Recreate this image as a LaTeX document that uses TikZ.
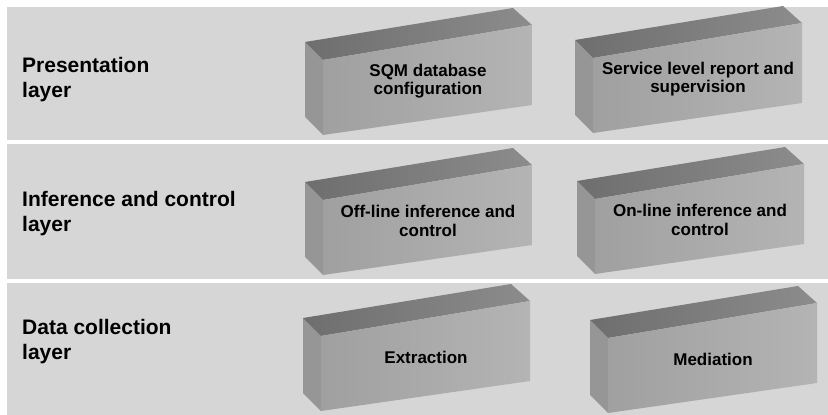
\documentclass[tikz,border=0pt]{standalone}
\usepackage{fontspec}
\setmainfont{Liberation Sans}
\definecolor{bandgray}{HTML}{D6D6D6}
\definecolor{frontL}{HTML}{A0A0A0}
\definecolor{frontR}{HTML}{B4B4B4}
\definecolor{topL}{HTML}{6E6E6E}
\definecolor{topR}{HTML}{8C8C8C}
\definecolor{sidegray}{HTML}{969696}
\tikzset{
  band/.style={fill=bandgray, draw=none},
  layerlabel/.style={anchor=north west, inner sep=0pt, align=left,
    font=\bfseries\fontsize{21}{25}\selectfont, text=black},
  boxtext/.style={inner sep=0pt, align=center,
    font=\bfseries\fontsize{17}{18.5}\selectfont, text=black},
}
\newcommand\layerbox[4]{%
  \coordinate (#1-blt) at (#2,#3);
  \coordinate (#1-flt) at (#2+18,#3+18);
  \coordinate (#1-frt) at (#2+227,#3-17);
  \coordinate (#1-brt) at (#2+208,#3-34);
  \coordinate (#1-frb) at (#2+227,#3+63);
  \coordinate (#1-flb) at (#2+18,#3+93);
  \coordinate (#1-blb) at (#2,#3+75);
  \fill[sidegray] (#1-blt) -- (#1-flt) -- (#1-flb) -- (#1-blb) -- cycle;
  \shade[left color=topL, right color=topR] (#1-blt) -- (#1-brt) -- (#1-frt) -- (#1-flt) -- cycle;
  \shade[left color=frontL, right color=frontR] (#1-flt) -- (#1-frt) -- (#1-frb) -- (#1-flb) -- cycle;
  \node[boxtext] (#1) at (#2+123,#3+39) {#4};
}
\begin{document}
\begin{tikzpicture}[x=1pt,y=-1pt]
\useasboundingbox (0,0) rectangle (828,415);
\fill[white] (0,0) rectangle (828,415);
% bands
\fill[band] (7,7) rectangle (828,140);
\fill[band] (7,144) rectangle (828,279);
\fill[band] (7,283) rectangle (828,415);
% labels
\node[layerlabel] (pres) at (22,56.7) {Presentation\\layer};
\node[layerlabel] (infer) at (22,190.7) {Inference and control\\layer};
\node[layerlabel] (data) at (22,318.7) {Data collection\\layer};
% boxes
\layerbox{sqm}{305}{42}{SQM database\\configuration}
\layerbox{slr}{575}{40}{Service level report and\\supervision}
\layerbox{offl}{305}{182}{Off-line inference and\\control}
\layerbox{onl}{577}{181}{On-line inference and\\control}
\layerbox{extr}{303}{318}{Extraction}
\layerbox{medi}{590}{320}{Mediation}
\end{tikzpicture}
\end{document}
